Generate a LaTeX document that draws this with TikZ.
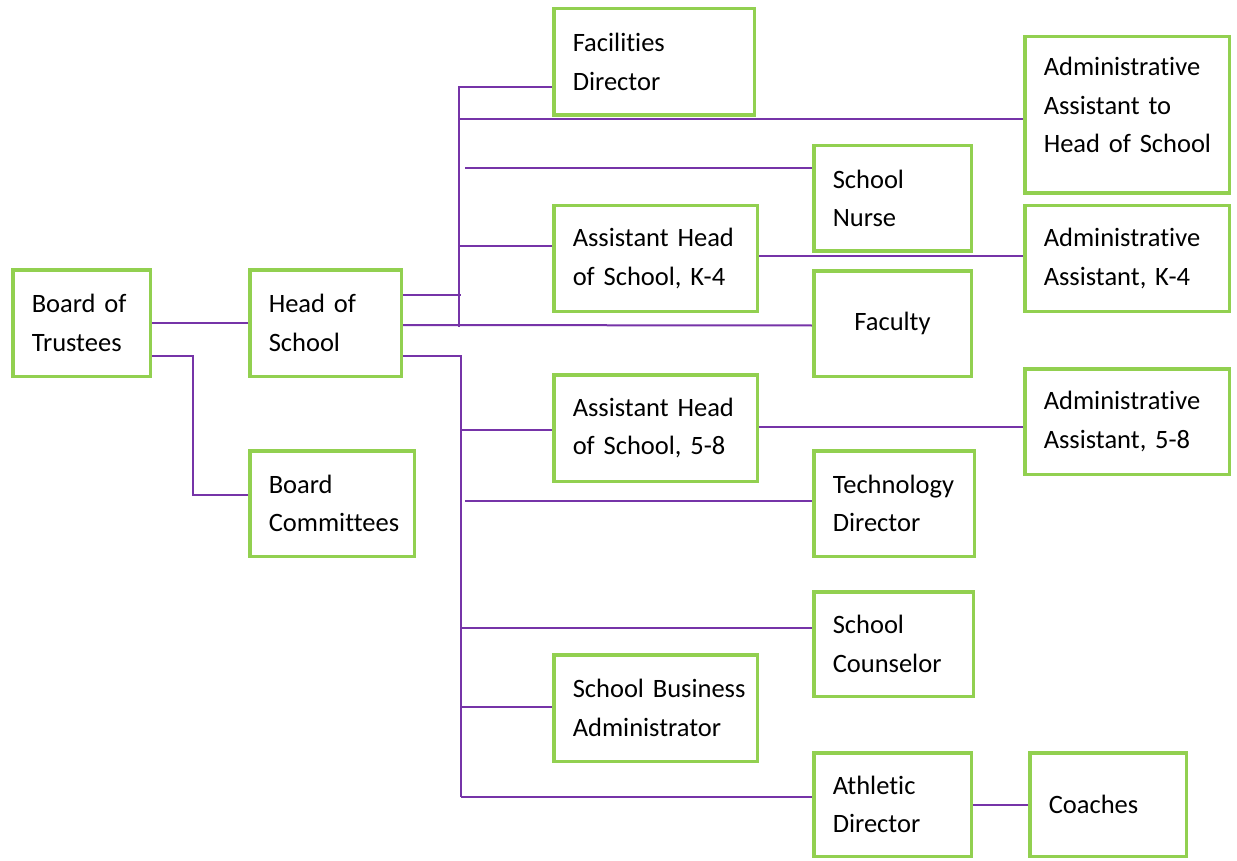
\documentclass[tikz,border=0pt]{standalone}
\usepackage{fontspec}
\setmainfont{Carlito}[Ligatures={NoCommon,NoContextual}, WordSpace=0.8]
\usetikzlibrary{backgrounds}
\pgfdeclarelayer{canvas}
\pgfsetlayers{canvas,background,main}
\definecolor{boxgreen}{RGB}{146,208,80}
\definecolor{linepurple}{RGB}{118,52,168}
\tikzset{
  orgbox/.style={draw=boxgreen, line width=3.5pt, fill=white, rectangle,
    inner xsep=19pt, inner ysep=0pt, align=left, anchor=center,
    font=\fontsize{26.5}{38.5}\selectfont},
  conn/.style={draw=linepurple, line width=2pt},
}
\newcommand{\orgnode}[6]{% name, x, y, w, h, text
  \node[orgbox, minimum width=#4pt, minimum height=#5pt, text width=#4pt-38pt] (#1) at (#2,#3) {#6};}
\begin{document}
\begin{tikzpicture}[x=1pt, y=-1pt]
\useasboundingbox (0,0) rectangle (1237,861);
\begin{pgfonlayer}{canvas}
\fill[white] (0,0) rectangle (1237,861);
\end{pgfonlayer}
\orgnode{bot}{81.5}{323}{137.5}{106.5}{Board of\\Trustees}
\orgnode{hos}{325.5}{323}{151.5}{106.5}{Head of\\School}
\orgnode{bc}{332}{503.5}{164.5}{105.5}{Board\\Committees}
\orgnode{fd}{654}{62}{200.5}{106.5}{Facilities\\Director}
\node[orgbox, minimum width=204.5pt, minimum height=156.5pt, text width=166.5pt, text depth=97pt] (aahs) at (1127,115) {Administrative\\Assistant to\\\mbox{Head of School}};
\orgnode{nurse}{892.5}{198.5}{157.5}{105.5}{School\\Nurse}
\orgnode{ahk}{655.5}{258.5}{203.5}{105.5}{\mbox{Assistant Head}\\\mbox{of School, K-4}}
\orgnode{aak}{1127}{258.5}{204.5}{105.5}{Administrative\\\mbox{Assistant, K-4}}
\node[orgbox, align=center, minimum width=157.5pt, minimum height=105.5pt, text width=119.5pt] (fac) at (892.5,323.5) {Faculty};
\orgnode{ahe}{655.5}{428}{203.5}{106.5}{\mbox{Assistant Head}\\\mbox{of School, 5-8}}
\orgnode{aae}{1127}{421.5}{204.5}{105.5}{Administrative\\\mbox{Assistant, 5-8}}
\orgnode{tech}{894}{503.5}{160.5}{105.5}{Technology\\Director}
\orgnode{couns}{893.5}{644}{159.5}{104.5}{School\\Counselor}
\orgnode{sba}{655.5}{708}{203.5}{106.5}{\mbox{School Business}\\Administrator}
\orgnode{ath}{892.5}{804.5}{157.5}{103.5}{Athletic\\Director}
\orgnode{coach}{1108}{804.5}{156.5}{103.5}{Coaches}
% bus coordinates
\coordinate (ut) at (459,87);
\coordinate (ub) at (459,327);
\coordinate (uh) at (461,295);
\coordinate (ua) at (459,119);
\coordinate (un) at (465,168);
\coordinate (uk) at (459,246);
\coordinate (lt) at (461,356);
\coordinate (lb) at (461,797);
\coordinate (le) at (461,430);
\coordinate (lt2) at (465,501);
\coordinate (lc) at (461,628);
\coordinate (ls) at (461,707);
\coordinate (bk) at (193,356);
\begin{scope}[on background layer]
\draw[conn] (bot.east) -- (hos.west);
\draw[conn] ([yshift=-33pt]bot.east) -- (bk) |- ([yshift=8.5pt]bc.west);
\draw[conn] ([yshift=28pt]hos.east) -- (uh);
\draw[conn] ([yshift=-25pt]fd.west) -- (ut) -- (ub);
\draw[conn] (ua) -- ([yshift=-4pt]aahs.west);
\draw[conn] (un) -- ([yshift=30.5pt]nurse.west);
\draw[conn] (uk) -- ([yshift=12.5pt]ahk.west);
\draw[conn] ([yshift=-2pt]hos.east) -- ([yshift=-2pt]fac.west);
\draw[conn] ([yshift=2.5pt]ahk.east) -- ([yshift=2.5pt]ahk.east -| aak.west);
\draw[conn] ([yshift=-33pt]hos.east) -- (lt) -- (lb);
\draw[conn] (le) -- ([yshift=-2pt]ahe.west);
\draw[conn] ([yshift=1pt]ahe.east) -- ([yshift=1pt]ahe.east -| aae.west);
\draw[conn] (lt2) -- ([yshift=2.5pt]tech.west);
\draw[conn] (lc) -- ([yshift=16pt]couns.west);
\draw[conn] (ls) -- ([yshift=1pt]sba.west);
\draw[conn] (lb) -- ([yshift=7.5pt]ath.west);
\draw[conn] (ath.east) -- (coach.west);
\end{scope}
\end{tikzpicture}
\end{document}
